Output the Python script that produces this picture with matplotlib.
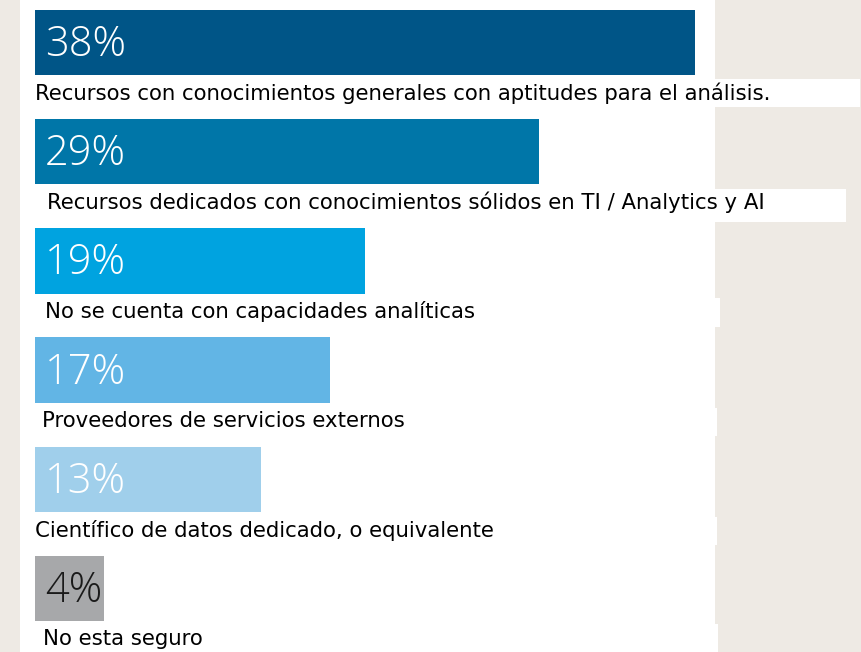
import matplotlib
matplotlib.use("Agg")
import matplotlib.pyplot as plt
from matplotlib.patches import Rectangle

categories = [
    "Recursos con conocimientos generales con aptitudes para el análisis.",
    "Recursos dedicados con conocimientos sólidos en TI / Analytics y AI",
    "No se cuenta con capacidades analíticas",
    "Proveedores de servicios externos",
    "Científico de datos dedicado, o equivalente",
    "No esta seguro",
]
values = [38, 29, 19, 17, 13, 4]
value_labels = ["38%", "29%", "19%", "17%", "13%", "4%"]

bar_colors = ["#005587", "#0076A8", "#00A3E0", "#62B5E5", "#A0CFEB", "#A7A8AA"]
pct_colors = ["white", "white", "white", "white", "white", "#1a1a1a"]
label_dx_px = [0, 12, 10, 7, 0, 8]

W, H = 861, 652
fig = plt.figure(figsize=(W / 100, H / 100), dpi=100)
fig.patch.set_facecolor("#eeeae4")

# white panel
fig.patches.append(Rectangle((20 / W, 0), (715 - 20) / W, 1, transform=fig.transFigure,
                             facecolor="white", edgecolor="none", zorder=-2))
# label strips extending past panel
for (x0, x1, y0, y1) in [(20, 860, 79, 107), (20, 846, 189, 222), (20, 720, 298, 327),
                         (20, 717, 408, 436), (20, 717, 517, 545), (20, 718, 624, 652)]:
    fig.patches.append(Rectangle((x0 / W, 1 - y1 / H), (x1 - x0) / W, (y1 - y0) / H,
                                 transform=fig.transFigure, facecolor="white",
                                 edgecolor="none", zorder=-2))

ax = fig.add_axes([0, 0, 1, 1])
ax.set_zorder(5)
ax.set_facecolor("none")
ax.patch.set_alpha(0)
px_per_unit = 17.37
ax.set_xlim(-35 / px_per_unit, (W - 35) / px_per_unit)
spacing = 109.2
ax.set_ylim((H - 42.5) / spacing, -42.5 / spacing)
ax.axis("off")

ypos = list(range(len(values)))
ax.barh(ypos, values, height=0.6, color=bar_colors, edgecolor="none", zorder=2)

for i, (v, lab, cat) in enumerate(zip(values, value_labels, categories)):
    ax.text(10 / px_per_unit, i + 0.02, lab, color=pct_colors[i], fontsize=30,
            family="Open Sans", fontweight="light", va="center", ha="left", zorder=3)
    ax.text(label_dx_px[i] / px_per_unit, i + 0.465, cat, color="black", fontsize=15.3,
            family="DejaVu Sans", va="center", ha="left", zorder=3)

fig.savefig("out.png", dpi=100, facecolor=fig.get_facecolor())
